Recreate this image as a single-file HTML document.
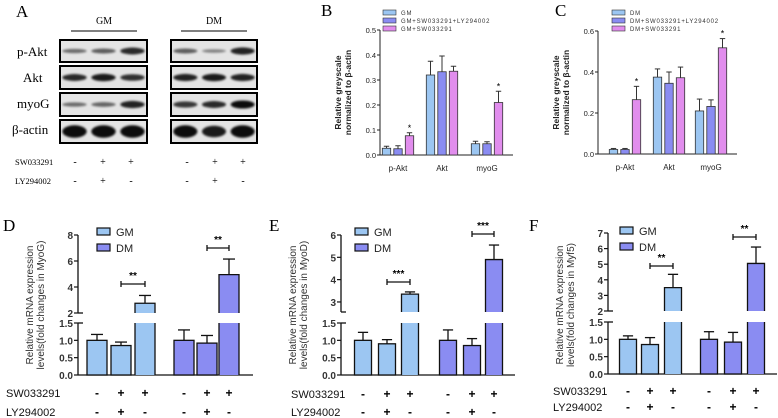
<!DOCTYPE html>
<html><head><meta charset="utf-8"><style>
body{margin:0;background:#fff;}
svg{display:block;font-family:"Liberation Sans",Arial,sans-serif;}
.ser{font-family:"Liberation Serif","DejaVu Serif",serif;}
</style></head><body>
<svg id="fig" width="778" height="418" viewBox="0 0 778 418" xmlns="http://www.w3.org/2000/svg">
<defs><filter id="bl" x="-20%" y="-50%" width="140%" height="200%"><feGaussianBlur stdDeviation="1.1"/></filter></defs>
</svg>
<script>
// ---------- data ----------
const bCategories=["p-Akt","Akt","myoG"];
const bGM=[0.027,0.32,0.045];          const bGMerr=[0.008,0.055,0.01];
const bCombo=[0.025,0.333,0.045];      const bComboErr=[0.012,0.063,0.008];
const bSW=[0.077,0.335,0.21];          const bSWerr=[0.012,0.02,0.045];
const bTicks=[0,0.1,0.2,0.3,0.4,0.5];
const cDM=[0.022,0.375,0.21];          const cDMerr=[0.005,0.04,0.058];
const cCombo=[0.022,0.345,0.232];      const cComboErr=[0.005,0.055,0.032];
const cSW=[0.265,0.372,0.518];         const cSWerr=[0.065,0.052,0.045];
const cTicks=[0,0.2,0.4,0.6];
const dValues=[1.0,0.85,2.75,1.0,0.92,4.95]; const dErr=[0.17,0.1,0.6,0.3,0.22,1.2];
const dUpperTicks=[2,4,6,8];
const eValues=[1.0,0.9,3.35,1.0,0.85,4.9]; const eErr=[0.23,0.12,0.1,0.3,0.2,0.65];
const eUpperTicks=[3,4,5,6];
const fValues=[1.0,0.85,3.5,1.0,0.92,5.05]; const fErr=[0.1,0.2,0.85,0.22,0.28,1.05];
const fUpperTicks=[2,3,4,5,6,7];
const lowerTicks=[0.0,0.5,1.0,1.5];
const swSigns=["-","+","+","-","+","+"];
const lySigns=["-","+","-","-","+","-"];
const blotRows=["p-Akt","Akt","myoG","β-actin"];
const blotGM=[[0.35,0.45,0.8],[0.8,0.9,0.75],[0.35,0.4,0.85],[1,1,1]];
const blotDM=[[0.45,0.2,0.85],[0.85,0.9,0.85],[0.7,0.8,1],[1,0.9,1]];

const NS="http://www.w3.org/2000/svg";
const svg=document.getElementById('fig');
function el(tag,attrs,parent,text){const e=document.createElementNS(NS,tag);for(const k in attrs)e.setAttribute(k,attrs[k]);if(text!==undefined)e.textContent=text;(parent||svg).appendChild(e);return e;}
const C1="#9cc6f2",C2="#8a8cf2",C3="#e18ded";

// ---------- Panel A ----------
const gA=el('g',{});


let t=el('text',{x:16,y:17,'font-size':17,class:'ser'},gA,'A');

[["GM",104,71,137],["DM",214,181,247]].forEach(([s,cx,x1,x2])=>{
 let h=el('text',{x:cx,y:24,'font-size':10,'text-anchor':'middle',class:'ser'},gA,s);
 
 el('line',{x1:x1,x2:x2,y1:31,y2:31,stroke:'#000','stroke-width':1},gA);
});
const rowY=[[40,62],[66,89],[93,116],[120,143]];
const rowLabelY=[56,82,108,134];
blotRows.forEach((r,i)=>{
 let lb=el('text',{x:i==3?12:(i==1?23:17),y:rowLabelY[i],'font-size':13,class:'ser'},gA,r);
 
 [[60,147,blotGM],[171,257,blotDM]].forEach(([x1,x2,data])=>{
  const [y1,y2]=rowY[i];
  let bx=el('rect',{x:x1,y:y1,width:x2-x1,height:y2-y1,fill:'#e4e4e4',stroke:'#000','stroke-width':2},gA);
  
  const cm=(y1+y2)/2, w=(x2-x1)/3;
  data[i].forEach((v,j)=>{
   let b=el('ellipse',{cx:x1+w*(j+0.5),cy:cm,rx:w*0.42,ry:1.2+(i==3?5:2.8)*v,fill:'#000','fill-opacity':0.3+0.65*v,filter:'url(#bl)'},gA);
   
  });
 });
});
const aSignX=[75,103,131,187,215,243];
[["SW033291",165,swSigns],["LY294002",184,lySigns]].forEach(([n,y,signs])=>{
 let l=el('text',{x:15,y:y,'font-size':8.5,class:'ser'},gA,n);
 
 signs.forEach((s,j)=>el('text',{x:aSignX[j],y:y,'font-size':10,'text-anchor':'middle',class:'ser'},gA,s));
});

// ---------- Panels B,C ----------
function barChart(o){
 const g=el('g',{});
 
 
 let lt=el('text',{x:o.letterX,y:16,'font-size':17,class:'ser'},g,o.letter);
 
 const ys=v=>o.y0-(v/o.max)*(o.y0-o.yTop);
 el('line',{x1:o.ax,x2:o.ax,y1:o.y0,y2:ys(o.max),stroke:'#222','stroke-width':1},g);
 el('line',{x1:o.ax,x2:o.axEnd,y1:o.y0,y2:o.y0,stroke:'#222','stroke-width':1},g);
 o.ticks.forEach(v=>{
  el('line',{x1:o.ax-3,x2:o.ax,y1:ys(v),y2:ys(v),stroke:'#222'},g);
  let tl=el('text',{x:o.ax-4,y:ys(v)+3,'font-size':7.5,'text-anchor':'end',fill:'#222'},g,v.toFixed(1));
  
 });
 let yl=el('text',{transform:`translate(${o.ax-39},${(o.y0+o.yTop)/2}) rotate(-90)`,'font-size':8.5,'font-weight':'bold','text-anchor':'middle',fill:'#222'},g);
 
 el('tspan',{x:0,dy:0},yl,'Relative greyscale');el('tspan',{x:0,dy:10},yl,'normalized to β-actin');
 const series=[[o.s1,o.e1,C1],[o.s2,o.e2,C2],[o.s3,o.e3,C3]];
 bCategories.forEach((c,ci)=>{
  const gc=o.groupX[ci];
  series.forEach(([vals,errs,col],si)=>{
   const x=gc+(si-1)*11.5-4.2, top=ys(vals[ci]), et=ys(vals[ci]+errs[ci]);
   el('line',{x1:x+4.2,x2:x+4.2,y1:top,y2:et,stroke:'#333'},g);
   el('line',{x1:x+1.5,x2:x+6.9,y1:et,y2:et,stroke:'#333'},g);
   let r=el('rect',{x:x,y:top,width:8.4,height:o.y0-top,fill:col,stroke:'#333','stroke-width':0.8},g);
   
   if(si==2&&o.stars[ci]){let s=el('text',{x:x+4.2,y:et-2,'font-size':9,'text-anchor':'middle'},g,'*');}
  });
  let xl=el('text',{x:gc,y:o.y0+16,'font-size':8,'text-anchor':'middle',fill:'#222'},g,c);
  
 });
 o.legend.forEach((s,i)=>{
  let lr=el('rect',{x:o.legX,y:10+i*8,width:13,height:5,fill:[C1,C2,C3][i],stroke:'#333','stroke-width':0.6},g);
  
  let lx=el('text',{x:o.legX+18,y:15+i*8,'font-size':6,fill:'#333','letter-spacing':'0.8'},g,s);
  
 });
}
barChart({name:'panel-b-chart',letter:'B',letterX:321,ax:380,axEnd:513,y0:155,yTop:30,max:0.5,ticks:bTicks,groupX:[398,442,487],
 s1:bGM,e1:bGMerr,s2:bCombo,e2:bComboErr,s3:bSW,e3:bSWerr,stars:[1,0,1],legX:383,legend:["GM","GM+SW033291+LY294002","GM+SW033291"]});
barChart({name:'panel-c-chart',letter:'C',letterX:555,ax:598,axEnd:737,y0:154,yTop:31,max:0.6,ticks:cTicks,groupX:[625,669,711],
 s1:cDM,e1:cDMerr,s2:cCombo,e2:cComboErr,s3:cSW,e3:cSWerr,stars:[1,0,1],legX:612,legend:["DM","DM+SW033291+LY294002","DM+SW033291"]});

// ---------- Panels D,E,F ----------
function brokenChart(o){
 const g=el('g',{});
 
 
 let lt=el('text',{x:o.letterX,y:231,'font-size':17,class:'ser'},g,o.letter);
 
 const y0=o.y0,y15=o.y15;
 const ly=v=>y0-(v/1.5)*(y0-y15);
 const uy=v=>o.ub-(v-o.umin)*(o.ub-o.utopY)/(o.umax-o.umin);
 const yv=v=>v<=1.5?ly(v):uy(v);
 el('line',{x1:o.ax,x2:o.ax,y1:y0,y2:y15,stroke:'#111','stroke-width':1.3},g);
 el('line',{x1:o.ax,x2:o.ax,y1:o.ub,y2:uy(o.umax),stroke:'#111','stroke-width':1.3},g);
 el('line',{x1:o.ax,x2:o.axEnd,y1:y0,y2:y0,stroke:'#111','stroke-width':1.3},g);
 el('line',{x1:o.ax,x2:o.ax+5,y1:o.ub,y2:o.ub,stroke:'#111','stroke-width':1.3},g);
 el('line',{x1:o.ax,x2:o.ax+5,y1:y15,y2:y15,stroke:'#111','stroke-width':1.3},g);
 lowerTicks.forEach(v=>{el('line',{x1:o.ax-4,x2:o.ax,y1:ly(v),y2:ly(v),stroke:'#111','stroke-width':1.2},g);
  let tl=el('text',{x:o.ax-5,y:ly(v)+4,'font-size':10,'font-weight':'bold','text-anchor':'end',fill:'#333'},g,v.toFixed(1));
  });
 o.upperTicks.forEach(v=>{el('line',{x1:o.ax-4,x2:o.ax,y1:uy(v),y2:uy(v),stroke:'#111','stroke-width':1.2},g);
  let tl=el('text',{x:o.ax-5,y:uy(v)+4,'font-size':10,'font-weight':'bold','text-anchor':'end',fill:'#333'},g,String(v));
  });
 let yl=el('text',{transform:`translate(${o.ax-45},305) rotate(-90)`,'font-size':10,'text-anchor':'middle',fill:'#333'},g);
 
 el('tspan',{x:0,dy:0},yl,'Relative mRNA  expression');el('tspan',{x:0,dy:11},yl,'levels(fold changes in '+o.gene+')');
 const w=o.bw;
 o.values.forEach((v,i)=>{
  const cx=o.cx[i],x=cx-w/2,col=i<3?C1:C2,top=yv(v),et=yv(v+o.err[i]);
  el('line',{x1:cx,x2:cx,y1:top,y2:et,stroke:'#111','stroke-width':1.3},g);
  el('line',{x1:cx-w*0.3,x2:cx+w*0.3,y1:et,y2:et,stroke:'#111','stroke-width':1.3},g);
  if(v<=1.5){
   let r=el('rect',{x:x,y:top,width:w,height:y0-top,fill:col,stroke:'#111','stroke-width':1.3},g);
   
  }else{
   let r=el('path',{d:`M${x},${y0}V${y15}H${x+w}V${y0}Z`,fill:col,stroke:'none'},g);
   
   el('path',{d:`M${x},${y15}V${y0}M${x+w},${y15}V${y0}`,stroke:'#111','stroke-width':1.3,fill:'none'},g);
   let u=el('rect',{x:x,y:top,width:w,height:o.ub-top,fill:col,stroke:'none'},g);
   
   el('path',{d:`M${x},${o.ub}V${top}H${x+w}V${o.ub}`,stroke:'#111','stroke-width':1.3,fill:'none'},g);
  }
 });
 o.brackets.forEach(([a,b,y,s])=>{
  const x1=o.cx[a],x2=o.cx[b];
  let bk=el('path',{d:`M${x1},${y-3}V${y+3}M${x1},${y}H${x2}M${x2},${y-3}V${y+3}`,stroke:'#111','stroke-width':1.3,fill:'none'},g);
  
  el('text',{x:(x1+x2)/2,y:y-5,'font-size':10,'font-weight':'bold','text-anchor':'middle'},g,s);
 });
 [["GM",C1,0],["DM",C2,1]].forEach(([s,c,i])=>{
  let lr=el('rect',{x:o.legX,y:o.legY+i*16-4,width:13,height:7,fill:c,stroke:'#111','stroke-width':1.2},g);
  
  let lx=el('text',{x:o.legX+19,y:o.legY+i*16+4,'font-size':11,fill:'#222'},g,s);
  
 });
 [["SW033291",o.swY,swSigns],["LY294002",o.lyY,lySigns]].forEach(([n,y,signs])=>{
  let l=el('text',{x:o.labX,y:y,'font-size':11,fill:'#111'},g,n);
  
  signs.forEach((s,j)=>el('text',{x:o.cx[j],y:y,'font-size':12,'font-weight':'bold','text-anchor':'middle'},g,s));
 });
}
brokenChart({name:'panel-d-chart',letter:'D',letterX:3,gene:'MyoG',ax:78,axEnd:253,y0:375,y15:323,ub:313,umin:2,umax:8,utopY:235,
 upperTicks:dUpperTicks,values:dValues,err:dErr,cx:[97,121,145,184,207,229],bw:20,
 brackets:[[1,2,284,'**'],[4,5,248,'**']],legX:97,legY:232,swY:397,lyY:416,labX:6});
brokenChart({name:'panel-e-chart',letter:'E',letterX:269,gene:'MyoD',ax:341,axEnd:515,y0:375,y15:323,ub:312,umin:2.55,umax:6,utopY:235,
 upperTicks:eUpperTicks,values:eValues,err:eErr,cx:[363,387,410,448,472,494],bw:17,
 brackets:[[1,2,282,'***'],[4,5,234,'***']],legX:355,legY:232,swY:398,lyY:416,labX:291});
brokenChart({name:'panel-f-chart',letter:'F',letterX:529,gene:'Myf5',ax:608,axEnd:777,y0:374,y15:322,ub:311,umin:2,umax:7,utopY:233,
 upperTicks:fUpperTicks,values:fValues,err:fErr,cx:[628,650,673,709,733,756],bw:17,
 brackets:[[1,2,266,'**'],[4,5,237,'**']],legX:620,legY:231,swY:395,lyY:411,labX:553});
</script>
</body></html>
